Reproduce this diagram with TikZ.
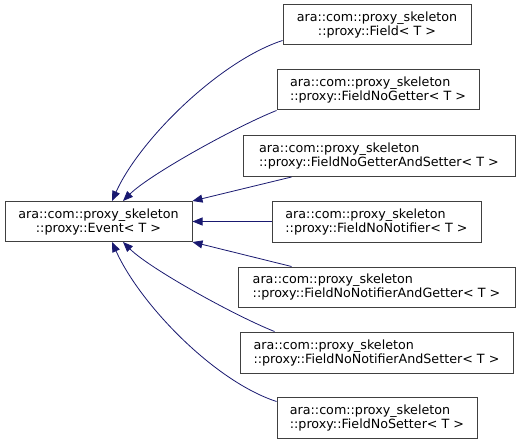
\documentclass[tikz,border=0pt]{standalone}
\usepackage{fontspec}
\setmainfont{DejaVu Sans}
\usetikzlibrary{arrows.meta}
\definecolor{edgeblue}{HTML}{191970}
\definecolor{boxgray}{HTML}{404040}
\tikzset{
  cls/.style={draw=boxgray, line width=1pt, fill=white, inner sep=0pt,
    minimum height=40pt, font=\fontsize{12.7}{14}\selectfont, text=black},
  clsL/.style={cls, align=left},
  clsC/.style={cls, align=center},
  inh/.style={draw=edgeblue, line width=0.8pt,
    -{Triangle[length=10pt,width=8pt]}}
}
\begin{document}
\begin{tikzpicture}[x=1pt,y=-1pt]
\useasboundingbox (0,0) rectangle (520,444);
\node[clsC, minimum width=187pt] (e) at (98.5,221.5) {ara::com::proxy\_skeleton\\::proxy::Event< T >};
\node[clsC, minimum width=188pt] (f1) at (377,25) {ara::com::proxy\_skeleton\\::proxy::Field< T >};
\node[clsL, minimum width=202pt] (f2) at (378,90) {ara::com::proxy\_skeleton\\::proxy::FieldNoGetter< T >};
\node[clsL, minimum width=272pt, minimum height=41pt] (f3) at (379,156) {ara::com::proxy\_skeleton\\::proxy::FieldNoGetterAndSetter< T >};
\node[clsL, minimum width=209pt, minimum height=41pt] (f4) at (376.5,221.5) {ara::com::proxy\_skeleton\\::proxy::FieldNoNotifier< T >};
\node[clsL, minimum width=277pt] (f5) at (376.5,287) {ara::com::proxy\_skeleton\\::proxy::FieldNoNotifierAndGetter< T >};
\node[clsL, minimum width=273pt, minimum height=41pt] (f6) at (376.5,352.5) {ara::com::proxy\_skeleton\\::proxy::FieldNoNotifierAndSetter< T >};
\node[clsL, minimum width=200pt, minimum height=41pt] (f7) at (377,417.5) {ara::com::proxy\_skeleton\\::proxy::FieldNoSetter< T >};

\draw[inh] ([yshift=5pt]f1.south west) .. controls +(-62.7,20.5) and +(27.8,-61.8) .. ([xshift=13.5pt]e.north);
\draw[inh] (f2.south west) .. controls +(-40,15.9) and +(26.5,-26.5) .. ([xshift=24.5pt]e.north);
\draw[inh] ([xshift=49pt]f3.south west) -- (e.north east);
\draw[inh] (f4.west) -- (e.east);
\draw[inh] ([xshift=54pt]f5.north west) -- (e.south east);
\draw[inh] ([xshift=35pt]f6.north west) .. controls +(-40,-15.9) and +(26.5,26.5) .. ([xshift=24.5pt]e.south);
\draw[inh] ([yshift=-5pt]f7.north west) .. controls +(-62.7,-20.5) and +(27.8,61.8) .. ([xshift=13.5pt]e.south);
\end{tikzpicture}
\end{document}
